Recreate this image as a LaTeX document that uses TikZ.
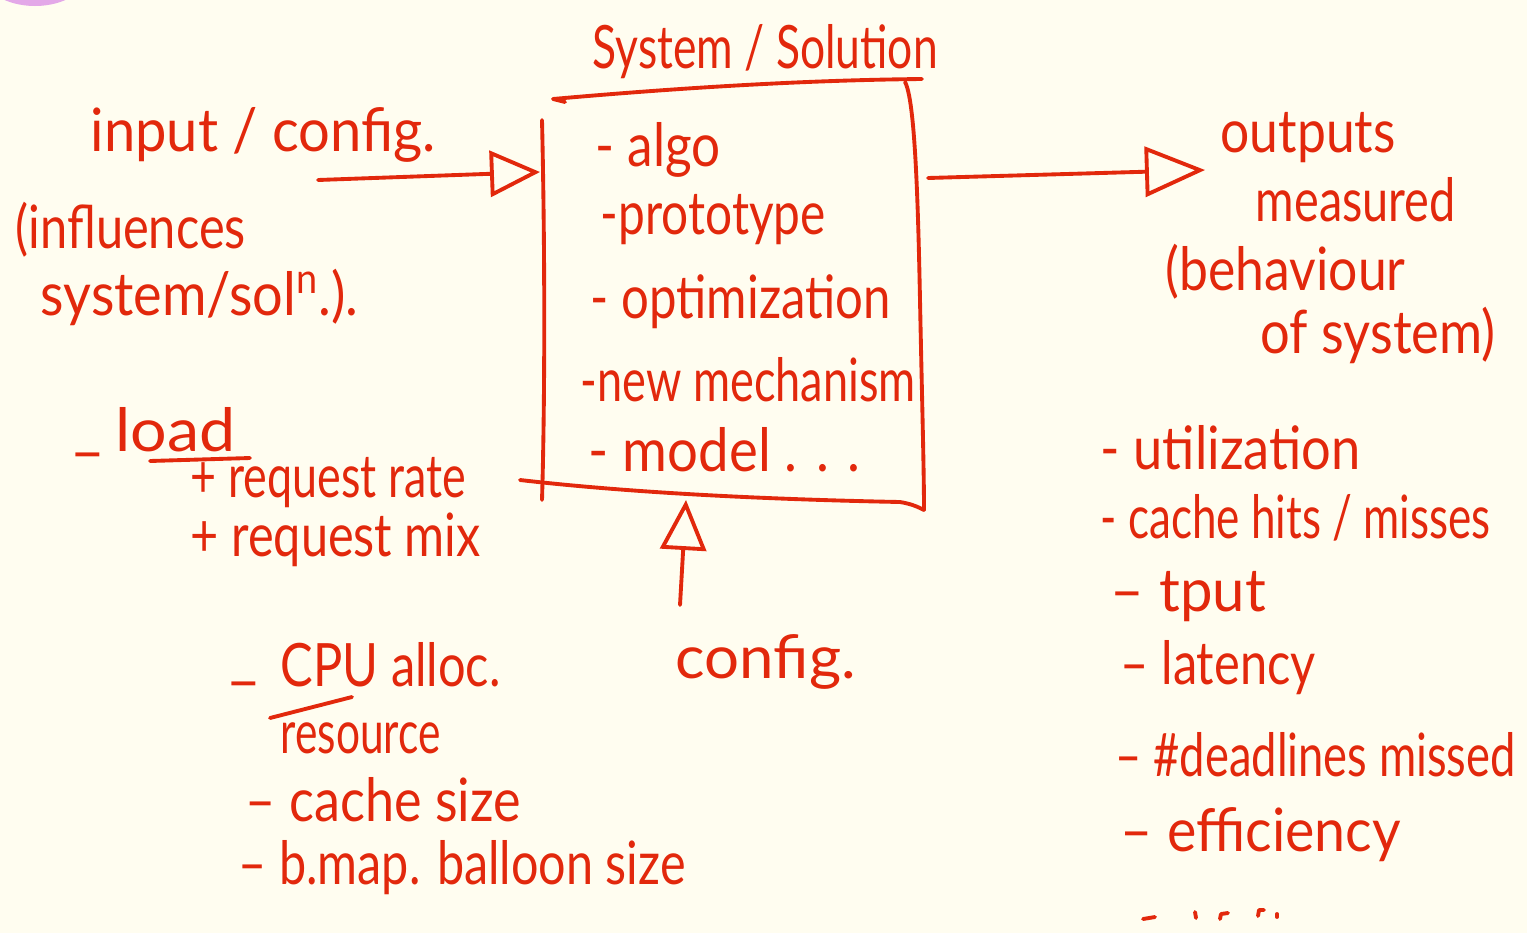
\documentclass[tikz,border=0pt]{standalone}
\usepackage{fontspec}
\setmainfont{Lato}
\usepackage{graphicx}
\usetikzlibrary{arrows.meta}
\definecolor{ink}{RGB}{226,40,12}
\definecolor{paper}{RGB}{255,253,240}
\definecolor{blob}{RGB}{227,168,232}
% text stretched sideways to a given width (in px units of the sheet), height kept
\newcommand{\hw}[2]{\resizebox{#1\dimexpr 0.01cm\relax}{\height}{#2}}
\tikzset{
  pen/.style={draw=ink, line width=1.1pt, line cap=round, line join=round},
  hand/.style={text=ink, inner sep=0pt, anchor=west, font=\fontsize{17}{20}\selectfont},
  openhead/.style={-{Triangle[open, length=5mm, width=4.6mm, line width=1.1pt]}},
}
\begin{document}
\begin{tikzpicture}[x=0.01cm, y=-0.01cm]
  % sheet
  \fill[paper] (0,0) rectangle (1527,933);
  \useasboundingbox (0,0) rectangle (1527,933);
  \fill[blob] (35,-30) ellipse [x radius=55, y radius=36];

  % title
  \node[hand] (title) at (592,52) {\hw{345}{System / Solution}};

  % the system box, drawn freehand
  \draw[pen] (565,102) -- (553,99) .. controls (700,86) and (820,80) .. (922,79);
  \draw[pen] (542,120) .. controls (545,250) and (545,400) .. (542,500);
  \draw[pen] (905,82) .. controls (915,100) and (918,200) .. (920,300) .. controls (922,400) and (924,470) .. (924,510);
  \draw[pen] (520,480) .. controls (650,495) and (800,500) .. (900,502) .. controls (912,504) and (918,507) .. (924,510);

  % box contents
  \node[hand] (algo) at (595,150) {\hw{125}{- algo}};
  \node[hand] (proto) at (600,220) {\hw{225}{-prototype}};
  \node[hand] (optim) at (590,302) {\hw{300}{- optimization}};
  \node[hand] (mech) at (580,380) {\hw{335}{-new mechanism}};
  \node[hand] (model) at (588,450) {\hw{272}{- model . . .}};

  % input side
  \node[hand] (input) at (90,135) {\hw{345}{input / config.}};
  \node[hand] (infl1) at (15,230) {\hw{230}{(influences}};
  \node[hand] (infl2) at (40,297) {\hw{318}{system/sol\textsuperscript{n}.).}};
  \coordinate (inStart) at (318,180);
  \coordinate (inEnd) at (540,172);
  \draw[pen, openhead] (inStart) -- (inEnd);

  \node[hand] (dashLoad) at (70,463) {–};
  \node[hand] (load) at (115,430) {\hw{120}{load}};
  \draw[pen] (150,461) -- (250,458);
  \node[hand] (rate) at (190,483) {\hw{275}{+ request rate}};
  \node[hand] (mix) at (190,540) {\hw{290}{+ request mix}};

  \node[hand] (dashCpu) at (226,692) {–};
  \node[hand] (cpu) at (280,665) {\hw{220}{CPU alloc.}};
  \draw[pen] (270,718) -- (352,697);
  \node[hand] (res) at (280,738) {\hw{160}{resource}};
  \node[hand] (cache) at (245,800) {\hw{275}{– cache size}};
  \node[hand] (balloon) at (238,868) {\hw{447}{– b.map. balloon size}};

  % config below
  \node[hand] (config) at (675,662) {\hw{180}{config.}};
  \coordinate (cfgStart) at (680,605);
  \coordinate (cfgEnd) at (686,500);
  \draw[pen, openhead] (cfgStart) -- (cfgEnd);

  % outputs
  \coordinate (outStart) at (928,178);
  \coordinate (outEnd) at (1205,170);
  \draw[pen, -{Triangle[open, length=6mm, width=5mm, line width=1.1pt]}] (outStart) -- (outEnd);
  \node[hand] (outputs) at (1220,138) {\hw{175}{outputs}};
  \node[hand] (measured) at (1255,200) {\hw{200}{measured}};
  \node[hand] (behav) at (1165,272) {\hw{240}{(behaviour}};
  \node[hand] (ofsys) at (1260,335) {\hw{235}{of system)}};

  \node[hand] (util) at (1100,448) {\hw{260}{- utilization}};
  \node[hand] (hits) at (1100,518) {\hw{390}{- cache hits / misses}};
  \node[hand] (tput) at (1110,597) {\hw{155}{–  tput}};
  \node[hand] (lat) at (1120,668) {\hw{195}{– latency}};
  \node[hand] (dead) at (1115,755) {\hw{400}{– \#deadlines missed}};
  \node[hand] (eff) at (1120,835) {\hw{280}{– efficiency}};

  % start of the next line, cut by the sheet edge
  \draw[pen] (1143,919) -- (1155,917);
  \draw[pen] (1195,912) -- (1196,918);
  \draw[pen] (1220,919) -- (1221,914) -- (1228,913);
  \draw[pen] (1258,916) -- (1259,910) -- (1264,910);
  \draw[pen] (1277,914) -- (1277,917);
\end{tikzpicture}
\end{document}
